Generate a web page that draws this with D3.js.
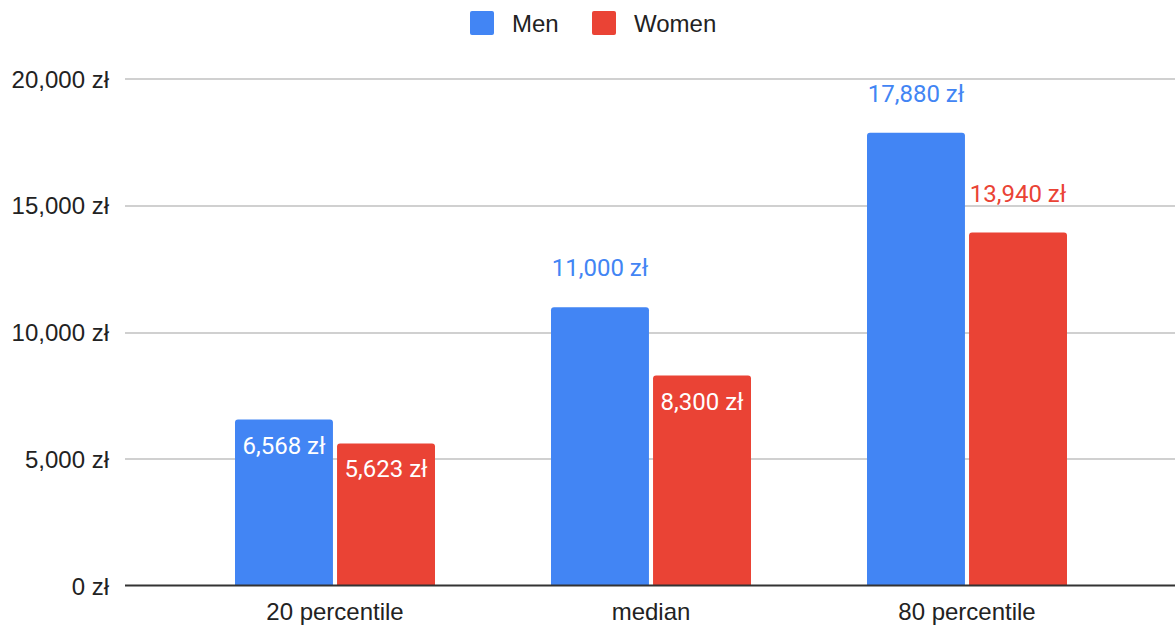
<!DOCTYPE html>
<html>
<head>
<meta charset="utf-8">
<script src="https://cdn.jsdelivr.net/npm/d3@7"></script>
<style>
  body { margin: 0; background: #fff; }
  svg { display: block; }
  .tick-label { font-family: "Liberation Sans", Arial, sans-serif; font-size: 24px; fill: #222; }
  .legend-label { font-family: "Liberation Sans", Arial, sans-serif; font-size: 24px; fill: #222; }
  .value-label { font-family: Roboto, sans-serif; font-size: 24px; }
</style>
</head>
<body>
<svg width="1175" height="629"></svg>
<script>
// Chart data
const categories = ["20 percentile", "median", "80 percentile"];
const seriesNames = ["Men", "Women"];
const menValues = [6568, 11000, 17880];
const womenValues = [5623, 8300, 13940];
const yTicks = [0, 5000, 10000, 15000, 20000];
const colors = ["#4285F4", "#EA4335"];

const width = 1175;
const height = 629;

const svg = d3.select("svg");

// Build rows for drawing
const rows = [];
categories.forEach((c, i) => {
    rows.push({ cat: c, series: "Men", value: menValues[i] });
    rows.push({ cat: c, series: "Women", value: womenValues[i] });
});

// Scales
const xScale = d3.scaleBand()
    .domain(categories)
    .range([177, 1125]);

const xInner = d3.scaleBand()
    .domain(seriesNames)
    .range([(xScale.bandwidth() - 200) / 2, (xScale.bandwidth() + 200) / 2])
    .paddingInner(0.04);

const yScale = d3.scaleLinear()
    .domain([0, 20000])
    .range([586, 79]);

const color = d3.scaleOrdinal().domain(seriesNames).range(colors);

const fmt = d => d3.format(",")(d) + " zł";

// Gridlines
svg.append("g")
    .selectAll("line")
    .data(yTicks.filter(t => t !== 0))
    .enter()
    .append("line")
    .attr("x1", 125)
    .attr("x2", width)
    .attr("y1", d => Math.round(yScale(d)))
    .attr("y2", d => Math.round(yScale(d)))
    .attr("stroke", "#d0d0d0")
    .attr("stroke-width", 2);

// Y tick labels
svg.append("g")
    .selectAll("text")
    .data(yTicks)
    .enter()
    .append("text")
    .attr("class", "tick-label")
    .attr("x", 109)
    .attr("y", d => yScale(d) + 8.5)
    .attr("text-anchor", "end")
    .text(fmt);

// Bars with rounded top corners
const r = 3;
function barPath(x, y, w, h) {
    return `M${x},${y + h} L${x},${y + r} Q${x},${y} ${x + r},${y} ` +
        `L${x + w - r},${y} Q${x + w},${y} ${x + w},${y + r} L${x + w},${y + h} Z`;
}

svg.append("g")
    .selectAll("path")
    .data(rows)
    .enter()
    .append("path")
    .attr("d", d => {
        const x = xScale(d.cat) + xInner(d.series);
        const y = yScale(d.value);
        return barPath(x, y, xInner.bandwidth(), yScale(0) - y);
    })
    .attr("fill", d => color(d.series));

// Baseline
svg.append("line")
    .attr("x1", 125)
    .attr("x2", width)
    .attr("y1", yScale(0) - 0.5)
    .attr("y2", yScale(0) - 0.5)
    .attr("stroke", "#333")
    .attr("stroke-width", 2);

// Value labels: inside bar for shorter bars, above for taller ones
svg.append("g")
    .selectAll("text")
    .data(rows)
    .enter()
    .append("text")
    .attr("class", "value-label")
    .attr("x", d => xScale(d.cat) + xInner(d.series) + xInner.bandwidth() / 2)
    .attr("y", d => d.value < 10000 ? yScale(d.value) + 34 : yScale(d.value) - 31)
    .attr("text-anchor", "middle")
    .attr("fill", d => d.value < 10000 ? "#ffffff" : color(d.series))
    .text(d => fmt(d.value));

// X category labels
svg.append("g")
    .selectAll("text")
    .data(categories)
    .enter()
    .append("text")
    .attr("class", "tick-label")
    .attr("x", d => xScale(d) + xScale.bandwidth() / 2)
    .attr("y", 620)
    .attr("text-anchor", "middle")
    .text(d => d);

// Legend
const legendX = [470, 592];
const legend = svg.append("g")
    .selectAll("g")
    .data(seriesNames)
    .enter()
    .append("g")
    .attr("transform", (d, i) => `translate(${legendX[i]}, 11)`);

legend.append("rect")
    .attr("width", 24)
    .attr("height", 24)
    .attr("rx", 2)
    .attr("fill", d => color(d));

legend.append("text")
    .attr("class", "legend-label")
    .attr("x", 42)
    .attr("y", 21)
    .text(d => d);
</script>
</body>
</html>
